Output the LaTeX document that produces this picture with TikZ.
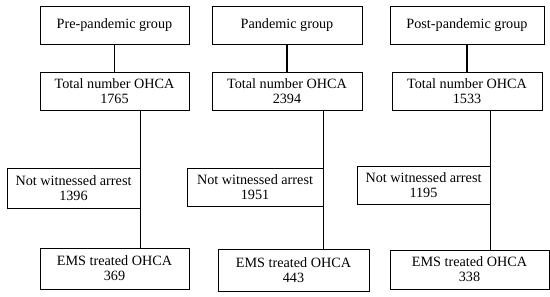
\documentclass[tikz,border=0pt]{standalone}
\usepackage{fontspec}
\setmainfont{Liberation Serif}
\usepackage{tikz}

\tikzset{
  box/.style={draw, line width=0.7pt, inner sep=0pt, align=center,
    font=\fontsize{14.2}{15}\selectfont},
  link/.style={line width=1.3pt},
}

\begin{document}
\begin{tikzpicture}[x=1pt, y=-1pt]
  \useasboundingbox (0,0) rectangle (550,297);

  % pre-pandemic
  \node[box, minimum width=149pt, minimum height=38pt] (top1) at (114.5,25)
        {Pre-pandemic group};
  \node[box, minimum width=149pt, minimum height=38pt] (tot1) at (114.5,91)
        {Total number OHCA\\1765};
  \node[box, minimum width=133pt, minimum height=40pt] (nw1) at (73.5,188)
        {Not witnessed arrest\\1396};
  \node[box, minimum width=149pt, minimum height=41pt] (ems1) at (114.5,268.5)
        {EMS treated OHCA\\369};

  % pandemic
  \node[box, minimum width=150pt, minimum height=38pt] (top2) at (287,25)
        {Pandemic group};
  \node[box, minimum width=150pt, minimum height=38pt] (tot2) at (287,91)
        {Total number OHCA\\2394};
  \node[box, minimum width=136pt, minimum height=38pt] (nw2) at (255,187)
        {Not witnessed arrest\\1951};
  \node[box, minimum width=151pt, minimum height=42pt] (ems2) at (293.5,270)
        {EMS treated OHCA\\443};

  % post-pandemic
  \node[box, minimum width=154pt, minimum height=38pt] (top3) at (467,25)
        {Post-pandemic group};
  \node[box, minimum width=150pt, minimum height=38pt] (tot3) at (467,91)
        {Total number OHCA\\1533};
  \node[box, minimum width=133pt, minimum height=38pt] (nw3) at (423.5,185)
        {Not witnessed arrest\\1195};
  \node[box, minimum width=159pt, minimum height=39pt] (ems3) at (469.5,269.5)
        {EMS treated OHCA\\338};

  \foreach \c in {1,2,3} {
    \draw[link] (top\c) -- (tot\c);
    \draw[link] (tot\c.south -| nw\c.east) -- (ems\c.north -| nw\c.east);
  }
\end{tikzpicture}
\end{document}
